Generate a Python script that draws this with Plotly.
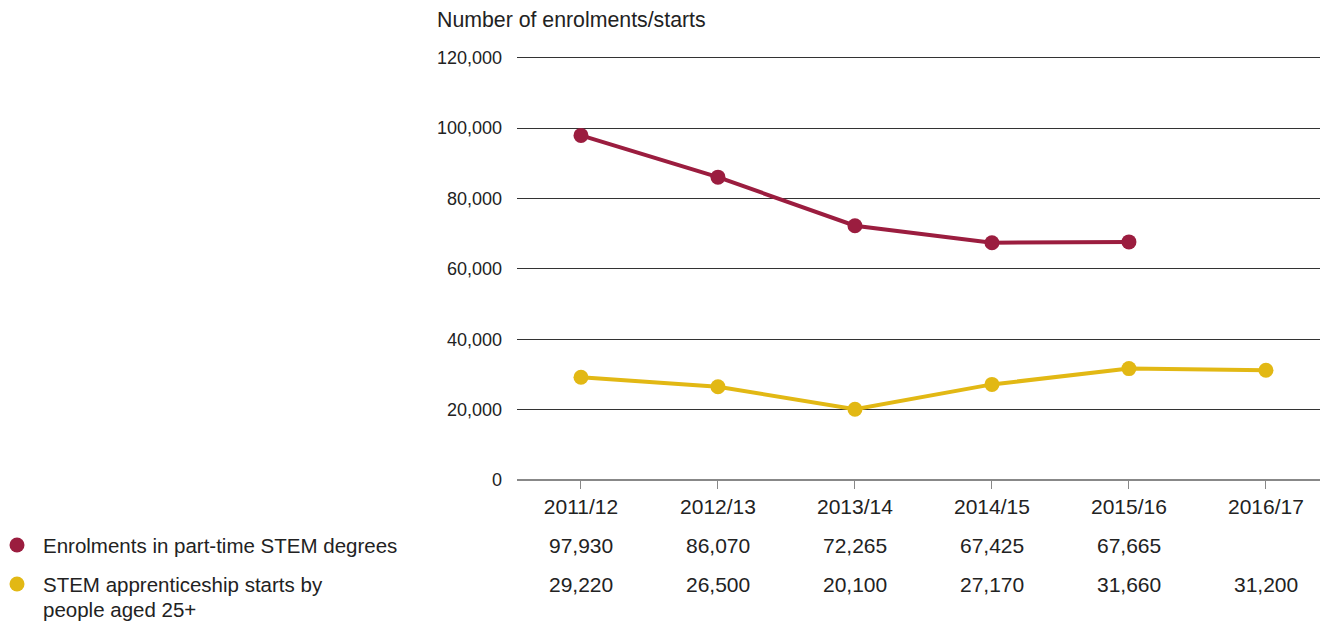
import plotly.graph_objects as go

years = ["2011/12", "2012/13", "2013/14", "2014/15", "2015/16", "2016/17"]
enrolments = [97930, 86070, 72265, 67425, 67665, None]
apprentices = [29220, 26500, 20100, 27170, 31660, 31200]
enrol_labels = ["97,930", "86,070", "72,265", "67,425", "67,665", ""]
appr_labels = ["29,220", "26,500", "20,100", "27,170", "31,660", "31,200"]
series_names = ["Enrolments in part-time STEM degrees", "STEM apprenticeship starts by", "people aged 25+"]
y_ticks = [0, 20000, 40000, 60000, 80000, 100000, 120000]

RED = "#9b1d3f"
YEL = "#e2b814"
TXT = "#222222"
FONT = "Liberation Sans"

OFF = 8  # page body margin
W, H = 1328 - OFF, 626 - OFF
Y_TOP = 120500
plot_bottom = 480 - OFF
plot_h = 422 * Y_TOP / 120000
L = 517 - OFF
R = 0
T = plot_bottom - plot_h
B = H - plot_bottom
pw = W - L - R


def py(pix):
    return (plot_bottom - (pix - OFF)) / plot_h


def px(pix):
    return (pix - OFF - L) / pw


xs = list(range(len(years)))

fig = go.Figure()
fig.add_trace(go.Scatter(x=xs, y=enrolments, mode="lines+markers",
                         line=dict(color=RED, width=4),
                         marker=dict(color=RED, size=15), connectgaps=False,
                         showlegend=False, cliponaxis=False))
fig.add_trace(go.Scatter(x=xs, y=apprentices, mode="lines+markers",
                         line=dict(color=YEL, width=4),
                         marker=dict(color=YEL, size=15),
                         showlegend=False, cliponaxis=False))

annotations = [dict(text="Number of enrolments/starts", xref="paper", yref="paper",
                    x=px(435), y=py(20), xanchor="left", yanchor="middle",
                    showarrow=False, font=dict(family=FONT, size=21.3, color=TXT))]
for i, (a, b) in enumerate(zip(enrol_labels, appr_labels)):
    if a:
        annotations.append(dict(text=a, xref="x", yref="paper", x=i, y=py(545),
                                xanchor="center", yanchor="middle", showarrow=False,
                                font=dict(family=FONT, size=21, color=TXT)))
    annotations.append(dict(text=b, xref="x", yref="paper", x=i, y=py(584),
                            xanchor="center", yanchor="middle", showarrow=False,
                            font=dict(family=FONT, size=21, color=TXT)))
for name, ypix in zip(series_names, [545, 584, 609]):
    annotations.append(dict(text=name, xref="paper", yref="paper", x=px(41), y=py(ypix),
                            xanchor="left", yanchor="middle", showarrow=False,
                            font=dict(family=FONT, size=20.5, color=TXT)))

shapes = []
for col, ypix in [(RED, 545), (YEL, 584)]:
    shapes.append(dict(type="circle", xref="paper", yref="paper", xsizemode="pixel",
                       ysizemode="pixel", xanchor=px(17), yanchor=py(ypix),
                       x0=-7.5, x1=7.5, y0=-7.5, y1=7.5,
                       fillcolor=col, line=dict(width=0)))

fig.update_layout(
    width=W, height=H,
    margin=dict(l=L, r=R, t=T, b=B, pad=0),
    plot_bgcolor="white", paper_bgcolor="white",
    font=dict(family=FONT, size=18, color=TXT),
    annotations=annotations, shapes=shapes,
    xaxis=dict(range=[-0.467, 5.453], tickmode="array", tickvals=xs, ticktext=years,
               showgrid=False, zeroline=False, showline=False,
               ticks="outside", ticklen=8, tickcolor="#888", tickwidth=1,
               tickfont=dict(family=FONT, size=21, color=TXT), ticklabelstandoff=0),
    yaxis=dict(range=[0, Y_TOP], tickmode="array", tickvals=y_ticks,
               ticktext=[f"{v:,}" for v in y_ticks],
               showgrid=True, gridcolor="#333", gridwidth=1,
               zeroline=True, zerolinecolor="#888", zerolinewidth=1.5,
               showline=False, ticks="", ticklabelstandoff=14,
               tickfont=dict(family=FONT, size=18, color=TXT)),
)

fig.write_html("out.html")
